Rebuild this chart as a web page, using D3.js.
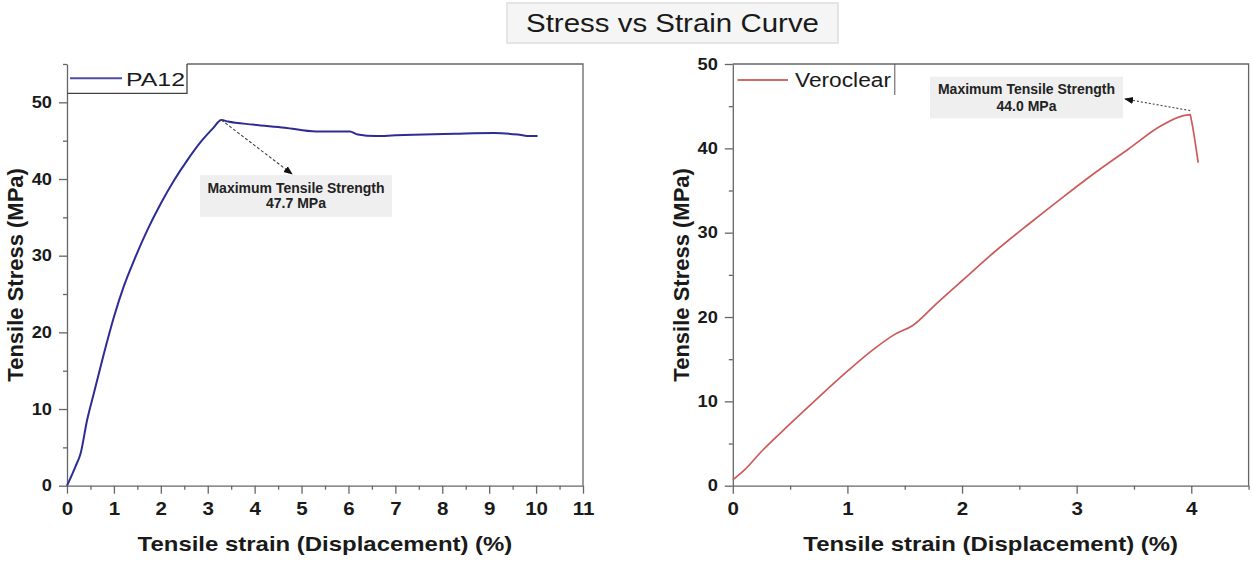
<!DOCTYPE html>
<html>
<head>
<meta charset="utf-8">
<script src="https://cdn.jsdelivr.net/npm/d3@7"></script>
<style>
  html, body { margin: 0; padding: 0; background: #fff; }
  svg { display: block; font-family: "Liberation Sans", Arial, sans-serif; }
</style>
</head>
<body>
<svg id="chart" width="1252" height="563"></svg>
<script>
// ---------- DATA ----------
const chartTitle = "Stress vs Strain Curve";
const xTitle = "Tensile strain (Displacement) (%)";
const yTitle = "Tensile Stress (MPa)";

const pa12Name = "PA12";
const pa12Strain = [0, 0.18, 0.29, 0.43, 0.57, 0.79, 1.0, 1.21, 1.43, 1.71, 2.0, 2.29, 2.57, 2.86, 3.11, 3.29, 3.43, 3.96, 4.64, 5.31, 6.03, 6.2, 6.58, 7.0, 7.6, 8.26, 9.1, 9.61, 9.87, 10.03];
const pa12Stress = [0, 2.5, 4.2, 8.6, 12.0, 17.3, 22.0, 26.0, 29.4, 33.3, 36.8, 39.9, 42.5, 44.9, 46.6, 47.7, 47.5, 47.1, 46.7, 46.2, 46.2, 45.8, 45.6, 45.7, 45.8, 45.9, 46.0, 45.8, 45.6, 45.6];
const pa12MaxLabel = ["Maximum Tensile Strength", "47.7 MPa"];
const pa12XTicks = [0, 1, 2, 3, 4, 5, 6, 7, 8, 9, 10, 11];
const pa12YTicks = [0, 10, 20, 30, 40, 50];

const veroName = "Veroclear";
const veroStrain = [0, 0.10, 0.26, 0.49, 0.75, 1.01, 1.25, 1.42, 1.57, 1.77, 2.0, 2.29, 2.58, 2.87, 3.16, 3.45, 3.74, 3.94, 3.99, 4.0, 4.06];
const veroStress = [0.7, 1.85, 4.2, 7.2, 10.5, 13.7, 16.4, 18.0, 19.0, 21.5, 24.3, 27.8, 31.0, 34.1, 37.1, 39.9, 42.7, 43.9, 44.0, 43.4, 38.3];
const veroMaxLabel = ["Maximum Tensile Strength", "44.0 MPa"];
const veroXTicks = [0, 1, 2, 3, 4];
const veroYTicks = [0, 10, 20, 30, 40, 50];

// ---------- DRAW ----------
const svg = d3.select("#chart");
const STRETCH = 1.14;
function stretch(sel) {
  sel.each(function () {
    const w = this.getComputedTextLength();
    if (w > 0) d3.select(this).attr("textLength", w * STRETCH).attr("lengthAdjust", "spacingAndGlyphs");
  });
}

const defs = svg.append("defs");
defs.append("marker").attr("id", "arrow").attr("viewBox", "0 0 10 10")
  .attr("refX", 9).attr("refY", 5).attr("markerWidth", 9).attr("markerHeight", 9)
  .attr("markerUnits", "userSpaceOnUse").attr("orient", "auto")
  .append("path").attr("d", "M0,1 L10,5 L0,9 Z").attr("fill", "#111");

// Title box
svg.append("rect").attr("x", 507).attr("y", 3).attr("width", 331).attr("height", 40)
  .attr("fill", "#f5f5f5").attr("stroke", "#dedede").attr("stroke-width", 1.5);
svg.append("text").attr("x", 672.5).attr("y", 32).attr("text-anchor", "middle")
  .attr("font-size", 25).attr("fill", "#1a1a1a").text(chartTitle)
  .attr("textLength", 293).attr("lengthAdjust", "spacingAndGlyphs");

function panel(cfg) {
  const g = svg.append("g");
  const x = d3.scaleLinear().domain(cfg.xDomain).range([cfg.left, cfg.right]);
  const y = d3.scaleLinear().domain(cfg.yDomain).range([cfg.bottom, cfg.top]);

  // frame (top and right)
  g.append("path").attr("d", `M${cfg.frameTopStart},${cfg.top} H${cfg.right} V${cfg.bottom}`)
    .attr("fill", "none").attr("stroke", "#666").attr("stroke-width", 1.3);

  // minor ticks
  g.append("g").attr("transform", `translate(0,${cfg.bottom})`)
    .call(d3.axisBottom(x).tickValues(cfg.xMinor).tickSize(4).tickFormat(""))
    .call(a => a.select(".domain").remove());
  g.append("g").attr("transform", `translate(${cfg.left},0)`)
    .call(d3.axisLeft(y).tickValues(cfg.yMinor).tickSize(4).tickFormat(""))
    .call(a => a.select(".domain").remove());

  // major axes
  const xa = g.append("g").attr("transform", `translate(0,${cfg.bottom})`)
    .call(d3.axisBottom(x).tickValues(cfg.xTicks).tickSize(8).tickPadding(8.5).tickSizeOuter(0).tickFormat(d3.format("d")));
  const ya = g.append("g").attr("transform", `translate(${cfg.left},0)`)
    .call(d3.axisLeft(y).tickValues(cfg.yTicks).tickSize(8).tickPadding(7).tickSizeOuter(0).tickFormat(d3.format("d")));
  [xa, ya].forEach(a => {
    a.selectAll("line, path").attr("stroke", "#666").attr("stroke-width", 1.3);
    a.selectAll("text").attr("fill", "#1a1a1a").attr("font-weight", "bold")
      .attr("font-family", "'Liberation Sans', Arial, sans-serif");
  });
  g.selectAll("g.tick line").attr("stroke", "#666").attr("stroke-width", 1.3);
  xa.selectAll("text").attr("font-size", 18).call(stretch);
  ya.selectAll("text").attr("font-size", 16).call(stretch);

  // axis titles
  g.append("text").attr("x", (cfg.left + cfg.right) / 2).attr("y", 551)
    .attr("text-anchor", "middle").attr("font-size", 21).attr("font-weight", "bold")
    .attr("fill", "#1a1a1a").text(xTitle).call(stretch);
  g.append("text").attr("transform", `translate(${cfg.yTitleX},${(cfg.top + cfg.bottom) / 2}) rotate(-90)`)
    .attr("text-anchor", "middle").attr("font-size", 22).attr("font-weight", "bold")
    .attr("fill", "#1a1a1a").text(yTitle);

  // curve
  const pts = cfg.strain.map((s, i) => [s, cfg.stress[i]]);
  g.append("path").datum(pts)
    .attr("d", d3.line().x(d => x(d[0])).y(d => y(d[1])).curve(d3.curveMonotoneX))
    .attr("fill", "none").attr("stroke", cfg.color).attr("stroke-width", cfg.lw)
    .attr("stroke-linejoin", "round");

  // legend
  const L = cfg.legend;
  if (L.box) {
    g.append("path").attr("d", `M${L.boxRight},${cfg.top} V${L.boxBottom} H${cfg.left}`)
      .attr("fill", "none").attr("stroke", "#444").attr("stroke-width", 1.3);
  } else {
    g.append("path").attr("d", `M${L.boxRight},${cfg.top} V${L.boxBottom}`)
      .attr("fill", "none").attr("stroke", "#555").attr("stroke-width", 1);
  }
  g.append("line").attr("x1", L.x1).attr("x2", L.x2).attr("y1", L.ly).attr("y2", L.ly)
    .attr("stroke", L.color).attr("stroke-width", 2);
  g.append("text").attr("x", L.tx).attr("y", L.ty).attr("font-size", L.fs)
    .attr("fill", "#1a1a1a").text(cfg.name).attr("textLength", L.tw).attr("lengthAdjust", "spacingAndGlyphs");

  // annotation
  const A = cfg.ann;
  g.append("rect").attr("x", A.x).attr("y", A.y).attr("width", A.w).attr("height", A.h)
    .attr("fill", "#efefef");
  A.lines.forEach((t, i) => {
    g.append("text").attr("x", A.x + A.w / 2).attr("y", A.baselines[i]).attr("text-anchor", "middle")
      .attr("font-size", 14).attr("font-weight", "bold").attr("fill", "#222").text(t);
  });
  const iMax = d3.maxIndex(cfg.stress);
  g.append("line").attr("x1", x(cfg.strain[iMax])).attr("y1", y(cfg.stress[iMax]) + A.startDy)
    .attr("x2", A.ex).attr("y2", A.ey)
    .attr("stroke", "#444").attr("stroke-width", 1.1).attr("stroke-dasharray", A.dash)
    .attr("marker-end", "url(#arrow)");
}

panel({
  name: pa12Name, strain: pa12Strain, stress: pa12Stress,
  xDomain: [0, 11], yDomain: [0, 55],
  left: 67, right: 583, top: 64, bottom: 485.7,
  frameTopStart: 187,
  xTicks: pa12XTicks, yTicks: pa12YTicks,
  xMinor: d3.range(0.5, 11, 1), yMinor: [5, 15, 25, 35, 45, 55],
  yTitleX: 23, color: "#2c2c94", lw: 2,
  legend: { box: true, boxRight: 187, boxBottom: 93.3, x1: 70, x2: 122, ly: 78.3, color: "#4e4e9e",
            tx: 126, ty: 86, fs: 19, tw: 59 },
  ann: { x: 200, y: 175, w: 192, h: 42, lines: pa12MaxLabel, baselines: [193, 207.5],
         ex: 292, ey: 174, startDy: 0, dash: "3,2" }
});

panel({
  name: veroName, strain: veroStrain, stress: veroStress,
  xDomain: [0, 4.5], yDomain: [0, 50],
  left: 732.8, right: 1248.6, top: 64, bottom: 485.7,
  frameTopStart: 732.8,
  xTicks: veroXTicks, yTicks: veroYTicks,
  xMinor: [0.5, 1.5, 2.5, 3.5, 4.5], yMinor: [5, 15, 25, 35, 45],
  yTitleX: 689, color: "#cc5a5a", lw: 1.7,
  legend: { box: false, boxRight: 894.8, boxBottom: 95, x1: 737.5, x2: 788, ly: 80, color: "#d46a6a",
            tx: 795, ty: 87.3, fs: 20, tw: 96 },
  ann: { x: 930, y: 76.7, w: 193, h: 41.6, lines: veroMaxLabel, baselines: [94.3, 110.5],
         ex: 1125, ey: 99, startDy: -4, dash: "2,2" }
});
</script>
</body>
</html>
